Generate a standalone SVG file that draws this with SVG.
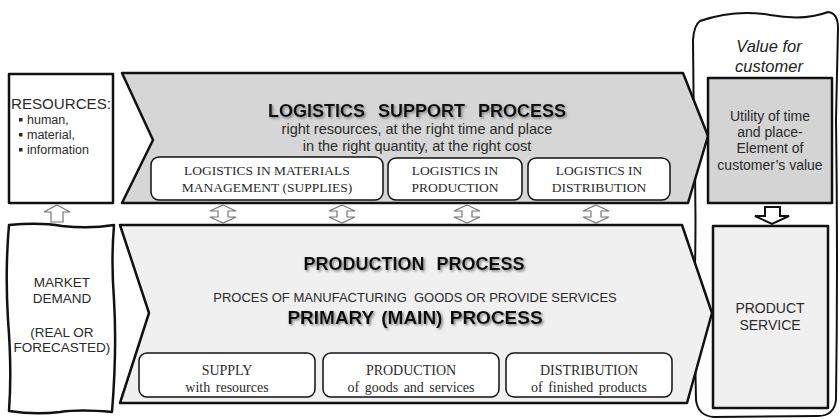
<svg xmlns="http://www.w3.org/2000/svg" width="840" height="420" viewBox="0 0 840 420">
  <defs>
    <style>
      .sans { font-family: "Liberation Sans", Arial, sans-serif; }
      .thick { stroke: #111; stroke-width: 2.5; stroke-linejoin: round; }
      .sub { fill: #fff; stroke: #111; stroke-width: 1.5; }
      .subtxt { font-family: "Liberation Serif", "Times New Roman", serif; fill: #2a2a2a; text-anchor: middle; }
      .body { font-family: "Liberation Sans", Arial, sans-serif; fill: #2a2a2a; }
      .title { font-family: "Liberation Sans", Arial, sans-serif; font-weight: bold; fill: #111; text-anchor: middle; filter: url(#shadow); }
      .dbl { fill: #fff; stroke: #777; stroke-width: 1.2; stroke-linejoin: miter; }
      .bullet { fill: #2a2a2a; }
    </style>
    <filter id="shadow" x="-5%" y="-30%" width="110%" height="160%">
      <feDropShadow dx="1.5" dy="1.5" stdDeviation="0.9" flood-color="#777" flood-opacity="0.9"/>
    </filter>
    <!-- two-headed vertical link arrow, centred on x=0 -->
    <path id="dblArrow" d="M0,0 L13,6 L5,6 L5,12 L13,12 L0,18 L-13,12 L-5,12 L-5,6 L-13,6 Z"/>
  </defs>

  <!-- customer value enclosure -->
  <g id="customer-frame">
    <path d="M700,21 Q735,9 770,15 Q805,21 828,12 Q838,13 838,28 L836,120 Q838,260 836,400 Q834,416 818,416 L714,417 Q698,416 696,400 L694,300 Q697,220 694,140 L693,40 Q694,25 700,21 Z" fill="#fff" stroke="#111" stroke-width="2"/>
    <text class="sans" x="769" y="52" font-size="16.5" font-style="italic" fill="#222" text-anchor="middle">Value for</text>
    <text class="sans" x="769" y="72" font-size="16.5" font-style="italic" fill="#222" text-anchor="middle">customer</text>
  </g>

  <!-- resources box -->
  <g id="resources">
    <rect x="9" y="74" width="104" height="129" fill="#fff" class="thick"/>
    <text class="body" x="11" y="109" font-size="14" textLength="100" lengthAdjust="spacingAndGlyphs">RESOURCES:</text>
    <rect class="bullet" x="19" y="118" width="3.5" height="3.5"/>
    <rect class="bullet" x="19" y="133" width="3.5" height="3.5"/>
    <rect class="bullet" x="19" y="148" width="3.5" height="3.5"/>
    <text class="body" x="27" y="124" font-size="12.5">human,</text>
    <text class="body" x="27" y="139" font-size="12.5">material,</text>
    <text class="body" x="27" y="154" font-size="12.5">information</text>
  </g>

  <!-- market demand box (hand-drawn edges) -->
  <g id="market-demand">
    <path d="M9,225 Q40,222 62,226 Q90,229 114,225 Q111,260 114,300 Q117,350 112,412 Q80,409 60,412 Q35,415 9,411 Q12,370 8,320 Q5,270 9,225 Z" fill="#fff" class="thick"/>
    <text class="body" x="62" y="287" font-size="13.5" text-anchor="middle">MARKET</text>
    <text class="body" x="62" y="303" font-size="13.5" text-anchor="middle">DEMAND</text>
    <text class="body" x="62" y="337" font-size="13.5" text-anchor="middle">(REAL OR</text>
    <text class="body" x="62" y="352" font-size="13.5" text-anchor="middle">FORECASTED)</text>
  </g>

  <!-- logistics support process -->
  <g id="logistics-support">
    <path d="M122,73 L683,73 L708,136 L688,203 L122,203 L153,140 Z" fill="#d6d6d6" class="thick"/>
    <text class="title" x="417" y="117" font-size="18" word-spacing="8">LOGISTICS SUPPORT PROCESS</text>
    <text class="body" x="417" y="134" font-size="14.5" text-anchor="middle">right resources, at the right time and place</text>
    <text class="body" x="417" y="151" font-size="14.5" text-anchor="middle">in the right quantity, at the right cost</text>
  </g>

  <g id="log-materials">
    <rect x="151" y="157" width="232" height="43" rx="8" class="sub"/>
    <text class="subtxt" x="267" y="175" font-size="13.5">LOGISTICS IN MATERIALS</text>
    <text class="subtxt" x="267" y="192" font-size="13.5">MANAGEMENT (SUPPLIES)</text>
  </g>
  <g id="log-production">
    <rect x="388" y="158" width="134" height="42" rx="8" class="sub"/>
    <text class="subtxt" x="455" y="175" font-size="13.5">LOGISTICS IN</text>
    <text class="subtxt" x="455" y="192" font-size="13.5">PRODUCTION</text>
  </g>
  <g id="log-distribution">
    <rect x="528" y="158" width="142" height="42" rx="8" class="sub"/>
    <text class="subtxt" x="599" y="175" font-size="13.5">LOGISTICS IN</text>
    <text class="subtxt" x="599" y="192" font-size="13.5">DISTRIBUTION</text>
  </g>

  <!-- production process -->
  <g id="production-process">
    <path d="M120,225 L682,225 L712,313 L687,403 L120,403 L149,313 Z" fill="#f0f0f0" class="thick"/>
    <text class="title" x="414" y="270" font-size="18" word-spacing="7">PRODUCTION PROCESS</text>
    <text class="body" x="415" y="302" font-size="13" text-anchor="middle" xml:space="preserve">PROCES OF MANUFACTURING  GOODS OR PROVIDE SERVICES</text>
    <text class="title" x="415" y="324" font-size="19" word-spacing="2">PRIMARY (MAIN) PROCESS</text>
  </g>

  <g id="supply">
    <rect x="139" y="353" width="176" height="44" rx="8" class="sub"/>
    <text class="subtxt" x="227" y="375" font-size="14">SUPPLY</text>
    <text class="subtxt" x="227" y="392" font-size="14" word-spacing="2">with resources</text>
  </g>
  <g id="production">
    <rect x="323" y="353" width="176" height="44" rx="8" class="sub"/>
    <text class="subtxt" x="411" y="375" font-size="14">PRODUCTION</text>
    <text class="subtxt" x="411" y="392" font-size="14" word-spacing="2">of goods and services</text>
  </g>
  <g id="distribution">
    <rect x="506" y="353" width="166" height="44" rx="8" class="sub"/>
    <text class="subtxt" x="589" y="375" font-size="14">DISTRIBUTION</text>
    <text class="subtxt" x="589" y="392" font-size="14" word-spacing="2">of finished products</text>
  </g>

  <!-- customer value boxes -->
  <g id="utility">
    <rect x="708" y="78" width="124" height="125" fill="#d4d4d4" class="thick"/>
    <text class="body" x="770" y="121" font-size="14" text-anchor="middle">Utility of time</text>
    <text class="body" x="770" y="137" font-size="14" text-anchor="middle">and place-</text>
    <text class="body" x="770" y="153" font-size="14" text-anchor="middle">Element of</text>
    <text class="body" x="770" y="170" font-size="14" text-anchor="middle">customer’s value</text>
  </g>
  <g id="product-service">
    <rect x="713" y="226" width="115" height="182" fill="#f0f0f0" class="thick"/>
    <text class="body" x="770" y="313" font-size="14" text-anchor="middle">PRODUCT</text>
    <text class="body" x="770" y="330" font-size="14" text-anchor="middle">SERVICE</text>
  </g>

  <!-- connectors -->
  <g id="connectors">
    <path d="M57,205 L70,212 L63,212 L63,222 L51,222 L51,212 L44,212 Z" fill="#fff" stroke="#777" stroke-width="1.2"/>
    <use href="#dblArrow" x="223" y="205" class="dbl"/>
    <use href="#dblArrow" x="342" y="205" class="dbl"/>
    <use href="#dblArrow" x="467" y="205" class="dbl"/>
    <use href="#dblArrow" x="596" y="205" class="dbl"/>
    <path d="M765,207 L780,207 L780,216 L789,216 L772,224 L755,216 L765,216 Z" fill="#fff" stroke="#111" stroke-width="2" stroke-linejoin="miter"/>
  </g>
</svg>
